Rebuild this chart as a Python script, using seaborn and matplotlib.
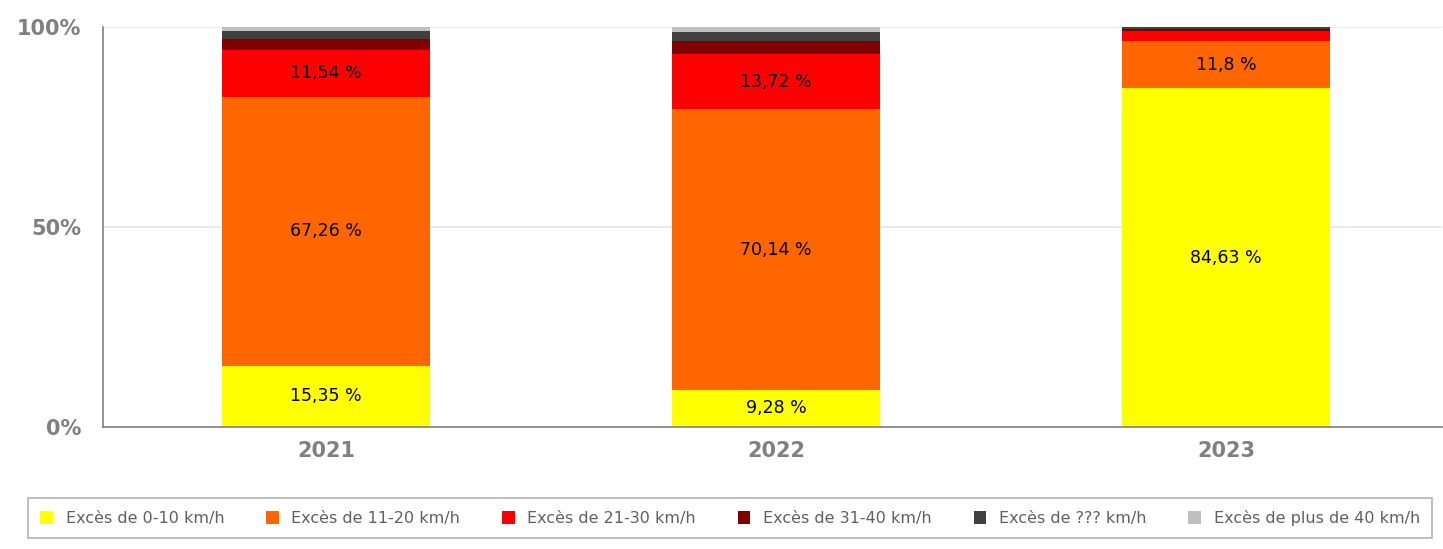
import pandas as pd
import seaborn as sns
import matplotlib.pyplot as plt
from matplotlib import ticker
from matplotlib.patches import Patch
import numpy as np

years = ['2021', '2022', '2023']
series = ['Excès de 0-10 km/h', 'Excès de 11-20 km/h', 'Excès de 21-30 km/h',
          'Excès de 31-40 km/h', 'Excès de ??? km/h', 'Excès de plus de 40 km/h']
colors = ['#ffff00', '#ff6600', '#ff0000', '#7f0000', '#404040', '#c0c0c0']

exces_0_10 = [15.35, 9.28, 84.63]
exces_11_20 = [67.26, 70.14, 11.8]
exces_21_30 = [11.54, 13.72, 2.6]
exces_31_40 = [2.9, 3.4, 0.5]
exces_inconnu = [2.0, 2.1, 0.4]
exces_plus_40 = [0.95, 1.36, 0.07]

values = [exces_0_10, exces_11_20, exces_21_30, exces_31_40, exces_inconnu, exces_plus_40]

sns.set_style('white')
plt.rcParams['font.family'] = ['DejaVu Sans']

fig = plt.figure(figsize=(14.43, 5.49), dpi=100)
ax = fig.add_axes([103 / 1443, 1 - 427 / 549, 1339 / 1443, 400 / 549])

grey = '#808080'
bottom = np.zeros(len(years))
for name, vals, col in zip(series, values, colors):
    df = pd.DataFrame({'year': years, 'pct': vals})
    sns.barplot(data=df, x='year', y='pct', color=col, width=0.462, ax=ax,
                bottom=bottom, saturation=1, linewidth=0)
    for i, v in enumerate(vals):
        if v >= 9:
            lbl = ('%g' % v).replace('.', ',') + ' %'
            ax.text(i, bottom[i] + v / 2, lbl, ha='center', va='center',
                    fontsize=12.5, color='black')
    bottom = bottom + np.array(vals)

ax.set_ylim(0, 100)
ax.set_xlim(-0.4956, 2.48)
ax.set_yticks([0, 50, 100])
ax.yaxis.set_major_formatter(ticker.FuncFormatter(lambda v, p: '%d%%' % v))
ax.grid(axis='y', color='#e6e6e6', linewidth=1.2)
ax.set_axisbelow(True)
ax.set_xlabel('')
ax.set_ylabel('')

# category ticks on boundaries, labels centred
ax.set_xticks([0, 1, 2])
ax.set_xticklabels(years)
ax.set_xticks([-0.4956, 0.5, 1.5], minor=True)
ax.tick_params(axis='x', which='major', length=0, pad=10, labelsize=15,
               labelcolor=grey)
ax.tick_params(axis='x', which='minor', length=7, color=grey, width=1.2, direction='out')
ax.tick_params(axis='y', length=7.5, color=grey, width=1.2, labelsize=15,
               labelcolor=grey, pad=8)
for t in ax.get_xticklabels() + ax.get_yticklabels():
    t.set_fontweight('bold')

for s in ['top', 'right']:
    ax.spines[s].set_visible(False)
for s in ['left', 'bottom']:
    ax.spines[s].set_color(grey)
    ax.spines[s].set_linewidth(1.2)

handles = [Patch(facecolor=c, edgecolor='none') for c in colors]
leg = fig.legend(handles, series, loc='lower left',
                 bbox_to_anchor=(28 / 1443, 1 - 538 / 549, 1404 / 1443, 41 / 549),
                 mode='expand', ncol=6, frameon=True, fancybox=False, fontsize=11.5,
                 handlelength=0.8, handleheight=0.8, handletextpad=0.8,
                 columnspacing=1.0, borderpad=0.75, borderaxespad=0)
leg.get_frame().set_edgecolor('#a0a0a0')
leg.get_frame().set_linewidth(1.2)
for t in leg.get_texts():
    t.set_color('#606060')

fig.savefig('out.png', dpi=100)
